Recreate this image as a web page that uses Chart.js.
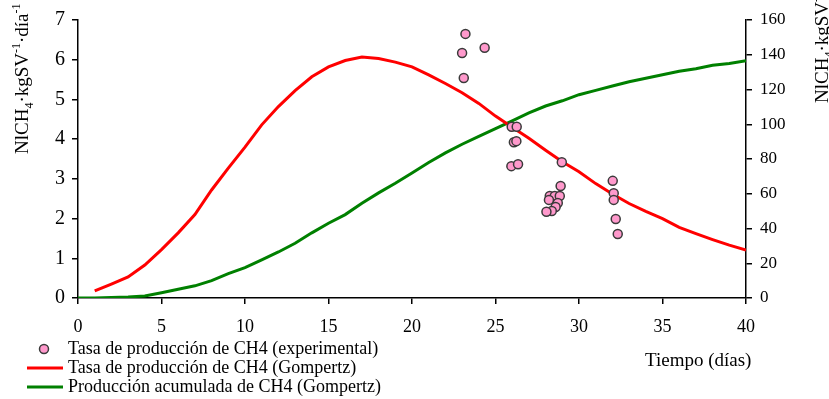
<!DOCTYPE html>
<html>
<head>
<meta charset="utf-8">
<script src="https://cdn.jsdelivr.net/npm/chart.js@4/dist/chart.umd.min.js"></script>
<style>
  html, body { margin: 0; padding: 0; background: #fff; }
  #wrap { width: 829px; height: 399px; position: relative; }
</style>
</head>
<body>
<div id="wrap"><canvas id="grafico"></canvas></div>
<script>
// Tasa experimental (días, NlCH4/kgSV·día)
const diasExp = [23.2, 23.0, 24.35, 23.1, 25.97, 26.27, 26.1, 26.25, 25.95, 26.35,
                 28.97, 28.9, 28.25, 28.55, 28.85, 28.2, 28.73, 28.6, 28.37, 28.05,
                 32.02, 32.08, 32.08, 32.2, 32.32];
const tasaExp = [6.65, 6.17, 6.30, 5.54, 4.31, 4.31, 3.92, 3.95, 3.32, 3.37,
                 3.42, 2.82, 2.57, 2.57, 2.57, 2.47, 2.39, 2.29, 2.19, 2.17,
                 2.95, 2.64, 2.47, 1.99, 1.61];

// Modelo de Gompertz, tasa de producción (eje izquierdo)
const diasTasa = [1, 2, 3, 4, 5, 6, 7, 8, 9, 10, 11, 12, 13, 14, 15, 16, 17, 18, 19, 20,
                  21, 22, 23, 24, 25, 26, 27, 28, 29, 30, 31, 32, 33, 34, 35, 36, 37, 38, 39, 40];
const tasaGompertz = [0.18, 0.35, 0.53, 0.83, 1.22, 1.64, 2.10, 2.72, 3.27, 3.80,
                      4.36, 4.82, 5.22, 5.57, 5.82, 5.98, 6.07, 6.03, 5.94, 5.82,
                      5.62, 5.40, 5.17, 4.90, 4.58, 4.30, 4.02, 3.72, 3.43, 3.18,
                      2.88, 2.62, 2.38, 2.18, 2.00, 1.78, 1.62, 1.47, 1.33, 1.21];

// Modelo de Gompertz, producción acumulada (eje derecho)
const diasAcum = [0, 1, 2, 3, 4, 5, 6, 7, 8, 9, 10, 11, 12, 13, 14, 15, 16, 17, 18, 19, 20,
                  21, 22, 23, 24, 25, 26, 27, 28, 29, 30, 31, 32, 33, 34, 35, 36, 37, 38, 39, 40];
const acumGompertz = [0, 0, 0.3, 0.6, 1.2, 3, 5, 7, 10, 14, 17.5,
                      22, 26.5, 31.5, 37.5, 43, 48, 54.5, 60.5, 66, 72,
                      78, 83.5, 88.5, 93, 97.5, 102, 106.5, 110.5, 113.5, 117,
                      119.5, 122, 124.5, 126.5, 128.5, 130.5, 132, 134, 135, 136.5];

const ticksX = [0, 5, 10, 15, 20, 25, 30, 35, 40];
const ticksIzq = [0, 1, 2, 3, 4, 5, 6, 7];
const ticksDer = [0, 20, 40, 60, 80, 100, 120, 140, 160];

const etiquetas = [
    'Tasa de producción de CH4 (experimental)',
    'Tasa de producción de CH4 (Gompertz)',
    'Producción acumulada de CH4 (Gompertz)'
];

const FUENTE = '"Liberation Serif", "DejaVu Serif", serif';

function pares(xs, ys) {
    let out = [];
    for (let i = 0; i < xs.length; i++) {
        out.push({ x: xs[i], y: ys[i] });
    }
    return out;
}

// texto con subíndices / superíndices: piezas [texto, tipo]
function textoCompuesto(ctx, piezas, size) {
    let x = 0;
    for (let i = 0; i < piezas.length; i++) {
        let t = piezas[i][0], tipo = piezas[i][1];
        let s = tipo ? Math.round(size * 0.65) : size;
        let dy = tipo === 'sub' ? size * 0.25 : (tipo === 'sup' ? -size * 0.4 : 0);
        ctx.font = s + 'px ' + FUENTE;
        ctx.fillText(t, x, dy);
        x += ctx.measureText(t).width;
    }
    return x;
}

const tituloIzq = [['NlCH', ''], ['4', 'sub'], ['·kgSV', ''], ['-1', 'sup'], ['·día', ''], ['-1', 'sup']];
const tituloDer = [['NlCH', ''], ['4', 'sub'], ['·kgSV', ''], ['-1', 'sup'], ['·día', ''], ['-1', 'sup']];

const rotulos = {
    id: 'rotulos',
    afterDraw(chart) {
        const ctx = chart.ctx;
        ctx.save();
        ctx.fillStyle = '#000';
        ctx.textBaseline = 'alphabetic';
        ctx.textAlign = 'left';

        // títulos de los ejes verticales, leídos de abajo hacia arriba
        ctx.save();
        ctx.translate(28, 154);
        ctx.rotate(-Math.PI / 2);
        textoCompuesto(ctx, tituloIzq, 19);
        ctx.restore();

        ctx.save();
        ctx.translate(828, 103);
        ctx.rotate(-Math.PI / 2);
        textoCompuesto(ctx, tituloDer, 19);
        ctx.restore();

        // título del eje x
        ctx.font = '19px ' + FUENTE;
        ctx.fillText('Tiempo (días)', 645, 366);

        // leyenda
        const ds = chart.data.datasets;
        ctx.font = '18px ' + FUENTE;
        for (let i = 0; i < ds.length; i++) {
            let y = 349 + i * 19;
            if (ds[i].showLine === false) {
                ctx.beginPath();
                ctx.arc(44, y, 4.5, 0, Math.PI * 2);
                ctx.fillStyle = ds[i].backgroundColor;
                ctx.fill();
                ctx.lineWidth = 1.5;
                ctx.strokeStyle = ds[i].borderColor;
                ctx.stroke();
            } else {
                ctx.beginPath();
                ctx.moveTo(27, y);
                ctx.lineTo(63, y);
                ctx.lineWidth = 3;
                ctx.strokeStyle = ds[i].borderColor;
                ctx.stroke();
            }
            ctx.fillStyle = '#000';
            ctx.textBaseline = 'middle';
            ctx.fillText(ds[i].label, 68, y);
        }
        ctx.restore();
    }
};

const ejeNegro = {
    grid: { drawOnChartArea: false, color: '#000', tickLength: 6, lineWidth: 1.5 },
    border: { color: '#000', width: 1.5 },
};

new Chart(document.getElementById('grafico'), {
    type: 'line',
    data: {
        datasets: [{
            label: etiquetas[0],
            data: pares(diasExp, tasaExp),
            showLine: false,
            yAxisID: 'y',
            backgroundColor: '#FF99CC',
            borderColor: '#3a3a3a',
            pointRadius: 4.5,
            pointBorderWidth: 1.5,
            pointHoverRadius: 4.5,
        }, {
            label: etiquetas[1],
            data: pares(diasTasa, tasaGompertz),
            yAxisID: 'y',
            borderColor: '#FF0000',
            backgroundColor: '#FF0000',
            borderWidth: 3,
            pointRadius: 0,
            tension: 0,
        }, {
            label: etiquetas[2],
            data: pares(diasAcum, acumGompertz),
            yAxisID: 'y2',
            borderColor: '#008000',
            backgroundColor: '#008000',
            borderWidth: 3,
            pointRadius: 0,
            tension: 0,
        }]
    },
    options: {
        responsive: true,
        maintainAspectRatio: false,
        animation: false,
        layout: { padding: { top: 20, left: 0, right: 0, bottom: 0 } },
        plugins: {
            legend: { display: false },
            tooltip: { enabled: false },
        },
        scales: {
            x: Object.assign({
                type: 'linear',
                min: 0,
                max: 40,
                afterBuildTicks: function (axis) { axis.ticks = ticksX.map(v => ({ value: v })); },
                afterFit: function (axis) { axis.height = 101; },
                ticks: { color: '#000', font: { family: FUENTE, size: 18 }, padding: 12, maxRotation: 0 },
            }, ejeNegro),
            y: Object.assign({
                position: 'left',
                min: 0,
                max: 7,
                afterBuildTicks: function (axis) { axis.ticks = ticksIzq.map(v => ({ value: v })); },
                afterFit: function (axis) { axis.width = 78; },
                ticks: { color: '#000', font: { family: FUENTE, size: 20 }, padding: 7 },
            }, ejeNegro),
            y2: Object.assign({
                position: 'right',
                min: 0,
                max: 160,
                afterBuildTicks: function (axis) { axis.ticks = ticksDer.map(v => ({ value: v })); },
                afterFit: function (axis) { axis.width = 83; },
                ticks: { color: '#000', font: { family: FUENTE, size: 17 }, padding: 8 },
            }, ejeNegro),
        }
    },
    plugins: [rotulos]
});
</script>
</body>
</html>
